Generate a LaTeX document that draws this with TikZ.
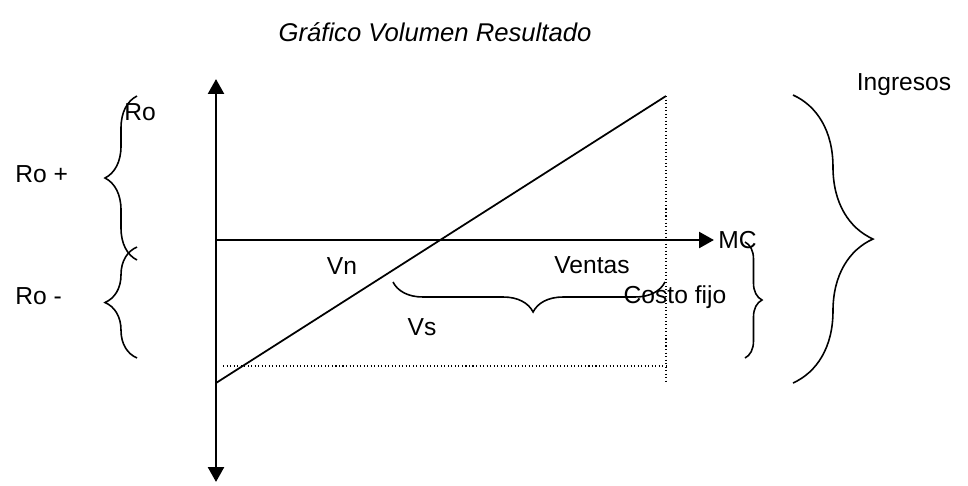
\documentclass[tikz,border=0pt]{standalone}
\usepackage{fontspec}
\setmainfont{Liberation Sans}
\usetikzlibrary{arrows.meta,decorations.pathreplacing}

\tikzset{
  lbl/.style={inner sep=0pt,font=\fontsize{14}{17}\selectfont},
  axis/.style={line width=1.6pt,-{Triangle[length=8.5pt,width=9pt]}},
  guide/.style={line width=0.6pt,dash pattern=on 0.6pt off 1.4pt},
  curly/.style={line width=0.9pt,decorate,decoration={brace,amplitude=#1}}
}

\begin{document}
\begin{tikzpicture}[x=0.02cm,y=-0.02cm]
\useasboundingbox (0,0) rectangle (968,485);
% axes
\coordinate (o) at (216,240);
\coordinate (top) at (216,79);
\coordinate (bot) at (216,482);
\coordinate (xend) at (714,240);
\draw [axis] (o) -- (top);
\draw [axis] (o) -- (bot);
\draw [axis] (o) -- (xend);
% ingresos line and guides
\coordinate (a) at (216,383);
\coordinate (b) at (666,96);
\coordinate (c) at (666,383);
\coordinate (d) at (223,366);
\coordinate (e) at (668,366);
\draw [line width=1pt] (a) -- (b);
\draw [guide] (b) -- (c);
\draw [guide] (d) -- (e);
% braces
\draw [curly=0.64cm] (137,260) -- (137,96);
\draw [curly=0.64cm] (137,358) -- (137,247);
\draw [curly=0.6cm,decoration={aspect=0.485}] (665,282) -- (393,282);
\draw [curly=0.34cm] (745,242) -- (745,358);
\draw [curly=1.6cm] (793,95) -- (793,383);
% labels
\node [lbl,font=\fontsize{14.6}{17}\selectfont\itshape] (title) at (435,32) {Gráfico Volumen Resultado};
\node [lbl,anchor=west] (ro) at (124,112) {Ro};
\node [lbl,anchor=west] (ropos) at (15,174) {Ro +};
\node [lbl,anchor=west] (roneg) at (15,296) {Ro -};
\node [lbl] (vn) at (342,266) {Vn};
\node [lbl] (vs) at (422,327) {Vs};
\node [lbl] (ventas) at (592,265) {Ventas};
\node [lbl] (costo) at (675,297) {Costo fijo};
\node [lbl,anchor=west] (mc) at (718,240) {MC};
\node [lbl] (ingresos) at (904,85) {Ingresos};
\end{tikzpicture}
\end{document}
